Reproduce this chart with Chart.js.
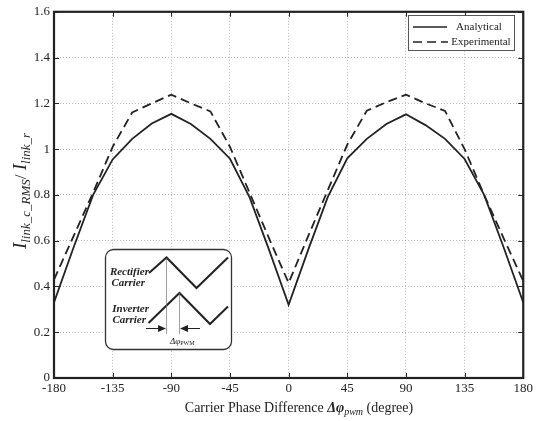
<!DOCTYPE html>
<html>
<head>
<meta charset="utf-8">
<script src="https://cdn.jsdelivr.net/npm/chart.js@4"></script>
<style>
  html, body { margin: 0; padding: 0; background: #fff; }
  #wrap { width: 536px; height: 421px; }
</style>
</head>
<body>
<div id="wrap"><canvas id="myChart" width="536" height="421"></canvas></div>
<script>
// phase difference (degree)
const angles = [-180, -165, -150, -135, -120, -105, -90, -75, -60, -45, -30, -15, 0,
  15, 30, 45, 60, 75, 90, 105, 120, 135, 150, 165, 180]
const analytical = [0.33, 0.57, 0.80, 0.955, 1.045, 1.112, 1.154, 1.11, 1.045, 0.958, 0.79, 0.56, 0.32,
  0.56, 0.79, 0.96, 1.045, 1.11, 1.152, 1.105, 1.045, 0.957, 0.80, 0.57, 0.33]
const experimental = [0.43, 0.62, 0.81, 1.01, 1.16, 1.20, 1.238, 1.20, 1.165, 1.01, 0.81, 0.61, 0.415,
  0.62, 0.82, 1.02, 1.168, 1.205, 1.238, 1.20, 1.167, 1.0, 0.80, 0.61, 0.424]
const xTicks = [-180, -135, -90, -45, 0, 45, 90, 135, 180]
const yTicks = [0, 0.2, 0.4, 0.6, 0.8, 1, 1.2, 1.4, 1.6]
const seriesNames = ['Analytical', 'Experimental']

const serif = "'Liberation Serif', 'Times New Roman', serif"
const ink = '#222'

// draws a run of [text, font, dy] pieces starting at x
function richText(c, parts, x, y) {
  let cx = x
  parts.forEach(p => {
    c.font = p[1]
    c.fillText(p[0], cx, y + (p[2] || 0))
    cx += c.measureText(p[0]).width
  })
}
function richWidth(c, parts) {
  let w = 0
  parts.forEach(p => { c.font = p[1]; w += c.measureText(p[0]).width })
  return w
}

const decor = {
  id: 'decor',
  afterDraw(chart) {
    const c = chart.ctx
    const a = chart.chartArea
    const xs = chart.scales.x, ys = chart.scales.y
    c.save()
    c.fillStyle = ink
    c.strokeStyle = ink

    // inward ticks
    c.lineWidth = 1
    c.beginPath()
    xTicks.forEach(v => {
      const px = Math.round(xs.getPixelForValue(v)) + 0.5
      c.moveTo(px, a.bottom); c.lineTo(px, a.bottom - 5)
      c.moveTo(px, a.top); c.lineTo(px, a.top + 5)
    })
    yTicks.forEach(v => {
      const py = Math.round(ys.getPixelForValue(v)) + 0.5
      c.moveTo(a.left, py); c.lineTo(a.left + 5, py)
      c.moveTo(a.right, py); c.lineTo(a.right - 5, py)
    })
    c.stroke()

    // frame
    c.lineWidth = 2.2
    c.strokeRect(a.left, a.top, a.right - a.left, a.bottom - a.top)

    // legend
    const lx = 408, ly = 15, lw = 106, lh = 35
    c.fillStyle = '#fff'
    c.fillRect(lx, ly, lw, lh)
    c.lineWidth = 1
    c.strokeStyle = '#555'
    c.strokeRect(lx + 0.5, ly + 0.5, lw, lh)
    c.strokeStyle = ink
    c.lineWidth = 1.6
    c.beginPath(); c.moveTo(413, 27); c.lineTo(447, 27); c.stroke()
    c.setLineDash([9, 5])
    c.beginPath(); c.moveTo(413, 42); c.lineTo(448, 42); c.stroke()
    c.setLineDash([])
    c.fillStyle = ink
    c.font = '11px ' + serif
    c.textAlign = 'center'
    c.textBaseline = 'middle'
    c.fillText(seriesNames[0], 479, 27)
    c.fillText(seriesNames[1], 481, 42)

    // inset diagram
    c.fillStyle = '#fff'
    c.strokeStyle = '#333'
    c.lineWidth = 1.3
    c.beginPath()
    c.roundRect(105.5, 249.5, 126, 100, 8)
    c.fill(); c.stroke()
    c.strokeStyle = ink
    c.lineWidth = 2
    c.beginPath()
    c.moveTo(149, 273); c.lineTo(166.5, 257.5); c.lineTo(196.5, 288); c.lineTo(228, 257.5)
    c.stroke()
    c.beginPath()
    c.moveTo(148.5, 323); c.lineTo(179.5, 293); c.lineTo(210, 324); c.lineTo(228, 306.5)
    c.stroke()
    c.lineWidth = 0.7
    c.strokeStyle = '#777'
    c.beginPath()
    c.moveTo(166.5, 258); c.lineTo(166.5, 334)
    c.moveTo(179.5, 293); c.lineTo(179.5, 334)
    c.stroke()
    c.strokeStyle = ink
    c.lineWidth = 1.2
    c.beginPath()
    c.moveTo(146, 328.5); c.lineTo(160, 328.5)
    c.moveTo(200, 328.5); c.lineTo(186, 328.5)
    c.stroke()
    c.fillStyle = ink
    c.beginPath()
    c.moveTo(166, 328.5); c.lineTo(158, 325); c.lineTo(158, 332); c.closePath()
    c.moveTo(180, 328.5); c.lineTo(188, 325); c.lineTo(188, 332); c.closePath()
    c.fill()
    c.textAlign = 'right'
    c.textBaseline = 'middle'
    c.font = 'italic bold 11px ' + serif
    c.fillText('Rectifier', 149, 272)
    c.fillText('Carrier', 145, 283)
    c.fillText('Inverter', 149, 309)
    c.fillText('Carrier', 146, 320)
    c.textAlign = 'left'
    c.textBaseline = 'alphabetic'
    richText(c, [['Δφ', 'italic 9px ' + serif], ['PWM', '6px ' + serif, 1]], 170, 344)

    // x title
    const xParts = [
      ['Carrier Phase Difference ', '14px ' + serif],
      ['Δφ', 'italic bold 14px ' + serif],
      ['pwm', 'italic 10px ' + serif, 3],
      [' (degree)', '14px ' + serif]
    ]
    const xw = richWidth(c, xParts)
    c.fillStyle = ink
    richText(c, xParts, 299 - xw / 2, 412)

    // y title
    const yParts = [
      ['I', 'italic 19px ' + serif],
      ['link_c_RMS', 'italic 13px ' + serif, 4],
      ['/ ', '17px ' + serif],
      ['I', 'italic 19px ' + serif],
      ['link_r', 'italic 13px ' + serif, 4]
    ]
    const yw = richWidth(c, yParts)
    c.translate(26, 191)
    c.rotate(-Math.PI / 2)
    richText(c, yParts, -yw / 2, 0)
    c.restore()
  }
}

const ctx = document.getElementById('myChart')
const myChart = new Chart(ctx, {
  type: 'line',
  data: {
    datasets: [{
      label: seriesNames[0],
      data: angles.map((a, i) => ({ x: a, y: analytical[i] })),
      borderColor: ink,
      borderWidth: 1.8,
      pointRadius: 0,
      tension: 0
    }, {
      label: seriesNames[1],
      data: angles.map((a, i) => ({ x: a, y: experimental[i] })),
      borderColor: ink,
      borderWidth: 1.8,
      borderDash: [9, 5],
      pointRadius: 0,
      tension: 0
    }]
  },
  options: {
    responsive: false,
    animation: false,
    events: [],
    layout: { padding: { left: 0, right: 12, top: 8, bottom: 0 } },
    plugins: {
      legend: { display: false },
      tooltip: { enabled: false }
    },
    scales: {
      x: {
        type: 'linear',
        min: -180,
        max: 180,
        afterBuildTicks: s => { s.ticks = xTicks.map(v => ({ value: v })) },
        afterFit: s => { s.height = 43 },
        ticks: {
          color: ink,
          font: { family: serif, size: 13 },
          padding: 3,
          maxRotation: 0,
          callback: v => String(v)
        },
        grid: { color: '#b8b8b8', lineWidth: 1, drawTicks: false },
        border: { display: false, dash: [1, 2] }
      },
      y: {
        min: 0,
        max: 1.6,
        afterBuildTicks: s => { s.ticks = yTicks.map(v => ({ value: v })) },
        afterFit: s => { s.width = 54 },
        ticks: {
          color: ink,
          font: { family: serif, size: 13 },
          padding: 4,
          callback: v => String(v)
        },
        grid: { color: '#b8b8b8', lineWidth: 1, drawTicks: false },
        border: { display: false, dash: [1, 2] }
      }
    }
  },
  plugins: [decor]
})
</script>
</body>
</html>
